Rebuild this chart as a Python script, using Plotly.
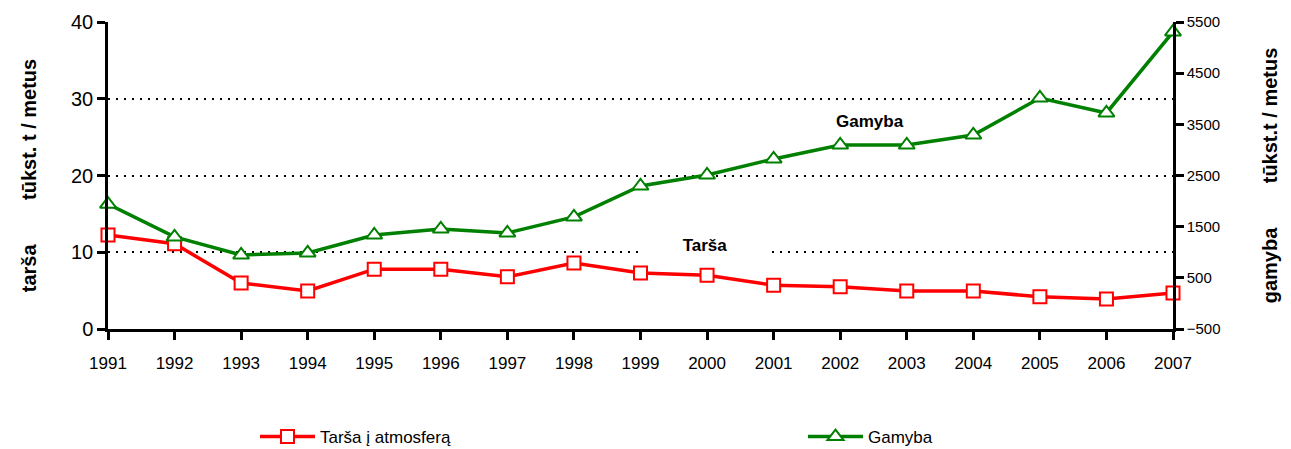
import plotly.graph_objects as go

years = list(range(1991, 2008))
tarsa = [12.25, 11.1, 6.0, 4.95, 7.8, 7.8, 6.8, 8.6, 7.3, 7.0, 5.7, 5.5, 4.95, 4.95, 4.2, 3.9, 4.7]
gamyba = [1940, 1300, 946, 986, 1337, 1455, 1377, 1690, 2295, 2510, 2823, 3096, 3096, 3292, 4015, 3722, 5305]
left_ticks = [0, 10, 20, 30, 40]
right_ticks = [-500, 500, 1500, 2500, 3500, 4500, 5500]

RED = "#FF0000"
GREEN = "#008000"
FONT = "Liberation Sans"
sp = "\u00a0" * 8

fig = go.Figure()
fig.add_trace(go.Scatter(
    x=years, y=tarsa, name="Tarša į atmosferą", mode="lines+markers",
    line=dict(color=RED, width=3.5),
    marker=dict(symbol="square", size=13, color="white", line=dict(color=RED, width=2)),
    cliponaxis=False, yaxis="y", legend="legend"))
fig.add_trace(go.Scatter(
    x=years, y=gamyba, name="Gamyba", mode="lines+markers",
    line=dict(color=GREEN, width=3.5),
    marker=dict(symbol="triangle-up", size=14, color="white", line=dict(color=GREEN, width=2)),
    cliponaxis=False, yaxis="y2", legend="legend2"))

fig.add_annotation(x=2002.45, y=3546, yref="y2", text="<b>Gamyba</b>", showarrow=False,
                   font=dict(family=FONT, size=17, color="black"))
fig.add_annotation(x=1999.97, y=10.9, yref="y", text="<b>Tarša</b>", showarrow=False,
                   font=dict(family=FONT, size=17, color="black"), bgcolor="white",
                   borderpad=4, width=118)

axis_common = dict(showline=True, linecolor="black", linewidth=2.5, ticks="outside",
                   ticklen=8, tickwidth=2.5, tickcolor="black", zeroline=False,
                   automargin=False)

W, H = 1283, 441
L, T = 100, 14
PW, PH = 1065, 307

fig.update_layout(
    width=W, height=H,
    margin=dict(l=L, r=W - L - PW, t=T, b=H - T - PH, pad=0, autoexpand=False),
    paper_bgcolor="white", plot_bgcolor="white",
    font=dict(family=FONT, color="black"),
    xaxis=dict(range=[1991, 2007], tickvals=years, ticktext=[str(y) for y in years],
               showgrid=False, tickfont=dict(size=17, family=FONT),
               ticklabelstandoff=9, **axis_common),
    yaxis=dict(range=[0, 40], tickvals=left_ticks,
               showgrid=True, gridcolor="black", gridwidth=1.5, griddash="2px,6px",
               tickfont=dict(size=20, family=FONT),
               title=dict(text="<b>tarša" + sp + "tūkst. t / metus</b>",
                          font=dict(size=20, family=FONT), standoff=30),
               **axis_common),
    yaxis2=dict(range=[-500, 5500], tickvals=right_ticks, overlaying="y", side="right",
                showgrid=False, tickfont=dict(size=15, family=FONT),
                title=dict(text="<b>gamyba" + sp + "tūkst.t / metus</b>",
                           font=dict(size=20, family=FONT), standoff=44),
                **axis_common),
    legend=dict(orientation="h", x=(255 - 108) / PW, xanchor="left", y=-(429 - 321) / PH,
                yanchor="middle", itemwidth=55, font=dict(size=17, family=FONT)),
    legend2=dict(orientation="h", x=(803 - 108) / PW, xanchor="left", y=-(429 - 321) / PH,
                 yanchor="middle", itemwidth=55, font=dict(size=17, family=FONT)),
    showlegend=True,
)

fig.write_html("out.html")
